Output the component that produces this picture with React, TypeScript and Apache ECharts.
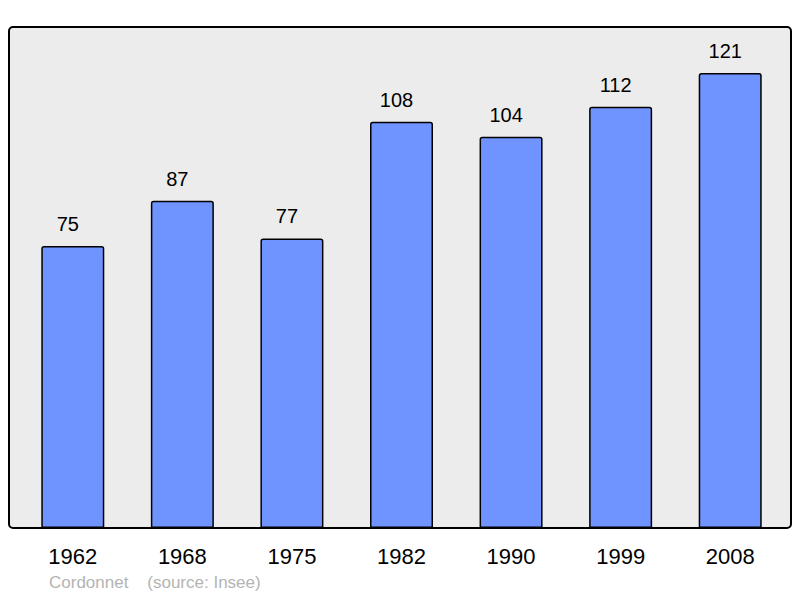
import { useEffect, useRef } from 'react'
import * as echarts from 'echarts'

const years = ['1962', '1968', '1975', '1982', '1990', '1999', '2008']
const population = [75, 87, 77, 108, 104, 112, 121]
const credit = 'Cordonnet    (source: Insee)'

export default function App() {
  const main = useRef(null)
  useEffect(() => {
    const option = {
      animation: false,
      textStyle: { fontFamily: 'Liberation Sans, Arial, sans-serif' },
      graphic: [
        {
          type: 'rect',
          z: -10,
          shape: { x: 9, y: 27, width: 782, height: 501, r: 4 },
          style: { fill: '#ececec', stroke: '#000', lineWidth: 2 },
          silent: true,
        },
        {
          type: 'text',
          left: 49,
          top: 574,
          style: {
            text: credit,
            fill: '#b4b4b4',
            fontSize: 17,
            fontFamily: 'Liberation Sans, Arial, sans-serif',
          },
        },
      ],
      grid: { left: 18, right: 15, top: 27, bottom: 70 },
      xAxis: {
        type: 'category',
        data: years,
        axisLine: { show: false },
        axisTick: { show: false },
        axisLabel: { color: '#000', fontSize: 22, margin: 17 },
      },
      yAxis: {
        type: 'value',
        min: 0,
        max: 133.2,
        show: false,
        splitLine: { show: false },
      },
      series: [
        {
          type: 'bar',
          data: population,
          barWidth: 63,
          itemStyle: {
            color: '#7094ff',
            borderColor: '#000',
            borderWidth: 1.5,
            borderRadius: [2, 2, 0, 0],
          },
          label: {
            show: true,
            position: 'top',
            distance: 12,
            offset: [-5, 0],
            color: '#000',
            fontSize: 20,
          },
        },
      ],
    }
    const chart = echarts.init(main.current, null, { renderer: 'svg' })
    chart.setOption(option)
    return () => {
      chart.dispose()
    }
  }, [])
  return (
    <div
      ref={main}
      style={{ position: 'fixed', left: 0, top: 0, width: '800px', height: '598px', background: '#fff' }}
    ></div>
  )
}
